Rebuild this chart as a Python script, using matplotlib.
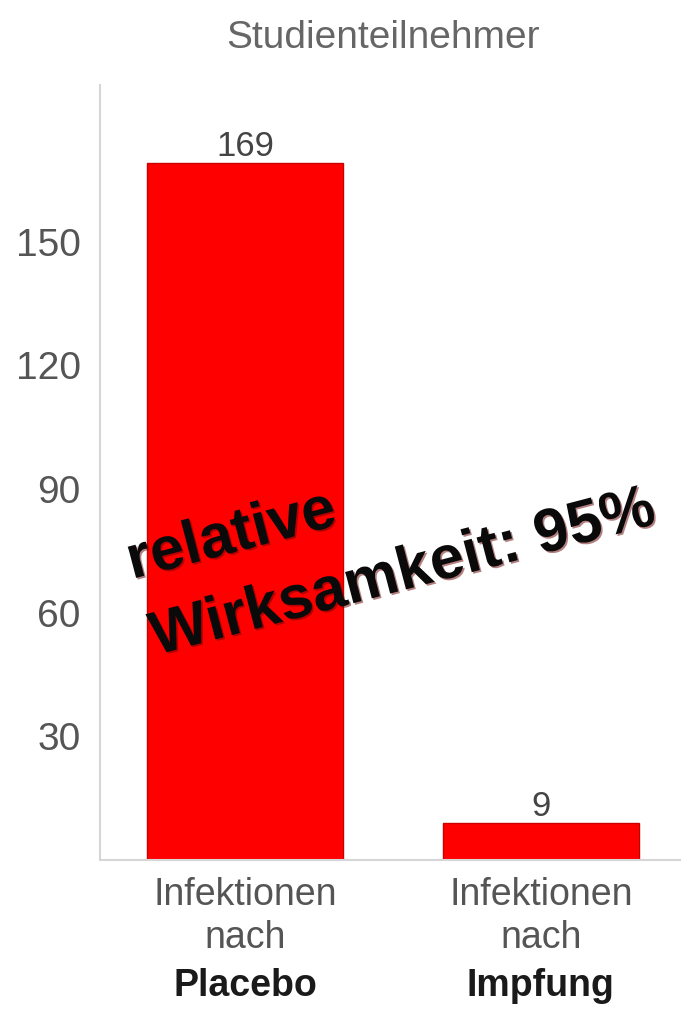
import matplotlib.pyplot as plt
import matplotlib.patheffects as pe

# data
categories = ["Placebo", "Impfung"]
upper_lines = ["Infektionen\nnach", "Infektionen\nnach"]
infections = [169, 9]
y_ticks = [30, 60, 90, 120, 150]
title = "Studienteilnehmer"
overlay = ["relative", "Wirksamkeit: 95%"]

plt.rcParams['font.family'] = ['Liberation Sans', 'DejaVu Sans']

W, H = 686, 1009
fig = plt.figure(figsize=(W / 100, H / 100), dpi=100)
ax = fig.add_axes([100 / W, 1 - 860 / H, 580 / W, (860 - 85) / H])

x = list(range(len(categories)))
bars = ax.bar(x, infections, width=0.66, color='#ff0000',
              edgecolor='#c80000', linewidth=1)
ax.bar_label(bars, labels=[str(v) for v in infections], padding=0,
             fontsize=25, color='#444444')

ax.set_xlim(-0.49, 1.47)
ax.set_ylim(0, 188)
ax.set_yticks(y_ticks)
ax.set_yticklabels([str(t) for t in y_ticks], fontsize=28, color='#555555')
ax.tick_params(axis='y', length=0, pad=14)

ax.set_xticks(x)
ax.set_xticklabels(upper_lines, fontsize=27, color='#555555',
                   linespacing=1.25)
ax.tick_params(axis='x', length=0, pad=12)

for i, cat in enumerate(categories):
    ax.annotate(cat, xy=(i, 0), xycoords=('data', 'axes fraction'),
                xytext=(0, -78), textcoords='offset points',
                ha='center', va='top', fontsize=27, fontweight='bold',
                color='#1a1a1a')

for side in ['top', 'right']:
    ax.spines[side].set_visible(False)
for side in ['left', 'bottom']:
    ax.spines[side].set_color('#d6d6d6')
    ax.spines[side].set_linewidth(1.5)

fig.text(383 / W, 1 - 38 / H, title, ha='center', va='center',
         fontsize=28, color='#666666')

# rotated overlay text
shadow = [pe.withSimplePatchShadow(offset=(1.2, -1.2),
                                   shadow_rgbFace='#6a0000', alpha=0.5)]
anchors = [(132, 579), (156, 655)]
for line, (px, py) in zip(overlay, anchors):
    fig.text(px / W, 1 - py / H, line, ha='left', va='baseline',
             rotation=14.7, rotation_mode='anchor', fontsize=44,
             fontweight='bold', color='#0a0a0a', path_effects=shadow)

fig.savefig('out.png', dpi=100)
